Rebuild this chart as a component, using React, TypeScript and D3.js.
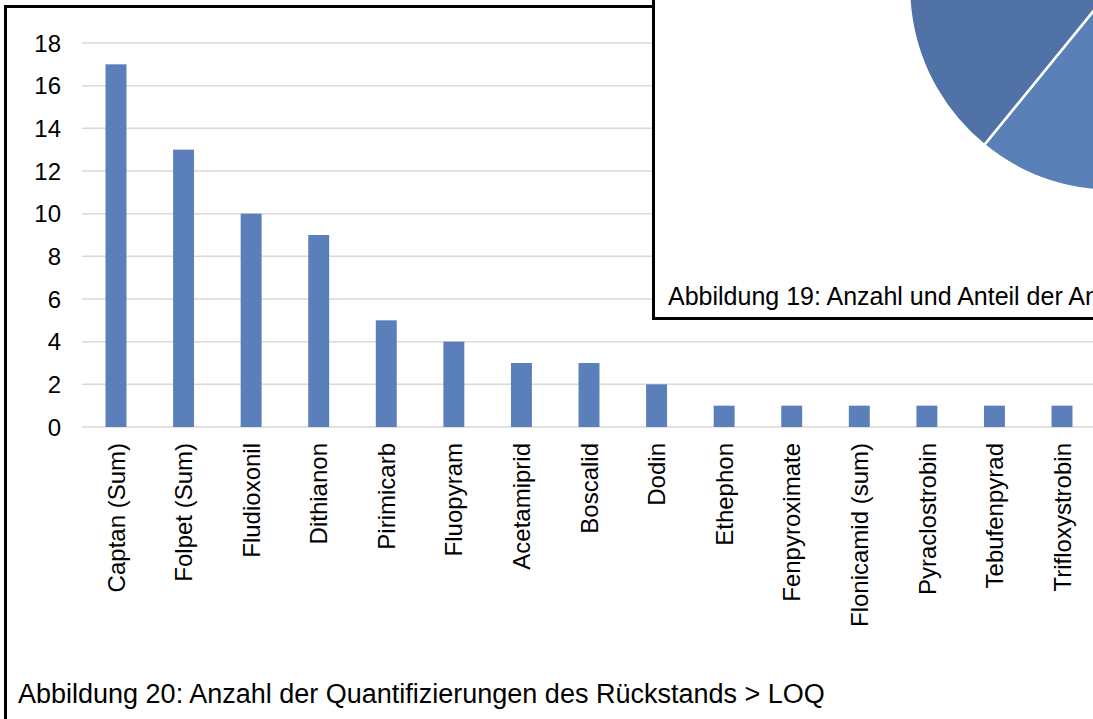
import React from "react";
import * as d3 from "d3";

const categories = [
  "Captan (Sum)", "Folpet (Sum)", "Fludioxonil", "Dithianon", "Pirimicarb",
  "Fluopyram", "Acetamiprid", "Boscalid", "Dodin", "Ethephon",
  "Fenpyroximate", "Flonicamid (sum)", "Pyraclostrobin", "Tebufenpyrad", "Trifloxystrobin",
];
const values = [17, 13, 10, 9, 5, 4, 3, 3, 2, 1, 1, 1, 1, 1, 1];
const yTicks = [0, 2, 4, 6, 8, 10, 12, 14, 16, 18];
const caption = "Abbildung 20: Anzahl der Quantifizierungen des Rückstands > LOQ";

// partially visible pie of the overlapping figure 19
const pieValues = [36, 24, 40];
const pieColors = ["#5a80b8", "#5072a7", "#6a8fc6"];
const overlayCaption = "Abbildung 19: Anzahl und Anteil der An";

const W = 1093;
const H = 719;
const FONT = "'Liberation Sans', Arial, Helvetica, sans-serif";

export default function App() {
  const x = d3.scaleBand<string>().domain(categories).range([82.2, 1095.8]).paddingInner(0.69).paddingOuter(0.345);
  const y = d3.scaleLinear().domain([0, 18]).range([427, 43]);

  const pieCx = 1113, pieCy = -13, pieR = 204;
  const pieStart = (219.2 / 360) * 2 * Math.PI - (pieValues[0] / 100) * 2 * Math.PI;
  const pie = d3.pie<number>().sort(null).startAngle(pieStart).endAngle(pieStart + 2 * Math.PI)(pieValues);
  const arc = d3.arc<d3.PieArcDatum<number>>().innerRadius(0).outerRadius(pieR);

  return (
    <svg width={W} height={H} style={{ position: "absolute", left: 0, top: 0, background: "#fff" }} fontFamily={FONT}>
      <defs>
        <clipPath id="viewClip">
          <rect x={0} y={0} width={W} height={H} />
        </clipPath>
      </defs>
      <rect x={0} y={0} width={W} height={H} fill="#fff" />
      {/* gridlines */}
      {yTicks.map((t) => (
        <line key={t} x1={82} x2={W} y1={y(t)} y2={y(t)} stroke="#d9d9d9" strokeWidth={1.5} />
      ))}
      {/* y tick labels */}
      {yTicks.map((t) => (
        <text key={"l" + t} x={61} y={y(t)} dy="0.36em" textAnchor="end" fontSize={24} fill="#000">
          {t}
        </text>
      ))}
      {/* bars */}
      {categories.map((c, i) => (
        <rect key={c} x={x(c)} y={y(values[i])} width={x.bandwidth()} height={y(0) - y(values[i])} fill="#5b7fbb" />
      ))}
      {/* x labels */}
      {categories.map((c) => {
        const cx = (x(c) as number) + x.bandwidth() / 2;
        return (
          <text key={"x" + c} transform={`translate(${cx},443) rotate(-90)`} dy="0.36em" textAnchor="end" fontSize={24} fill="#000">
            {c}
          </text>
        );
      })}
      {/* caption */}
      <text x={18} y={703} fontSize={27} fill="#000">
        {caption}
      </text>
      {/* outer border */}
      <line x1={5.5} y1={6.5} x2={653} y2={6.5} stroke="#000" strokeWidth={3} />
      <line x1={5.5} y1={5} x2={5.5} y2={H} stroke="#000" strokeWidth={3} />

      {/* overlapping figure 19 box */}
      <g clipPath="url(#viewClip)">
        <rect x={653.5} y={-10} width={W} height={328.5} fill="#fff" stroke="#000" strokeWidth={3} />
        {pie.map((p, i) => (
          <path key={i} d={arc(p) as string} transform={`translate(${pieCx},${pieCy})`} fill={pieColors[i]} stroke="#fff" strokeWidth={2.5} />
        ))}
        <text x={668} y={305} fontSize={25} fill="#000">
          {overlayCaption}
        </text>
      </g>
    </svg>
  );
}
